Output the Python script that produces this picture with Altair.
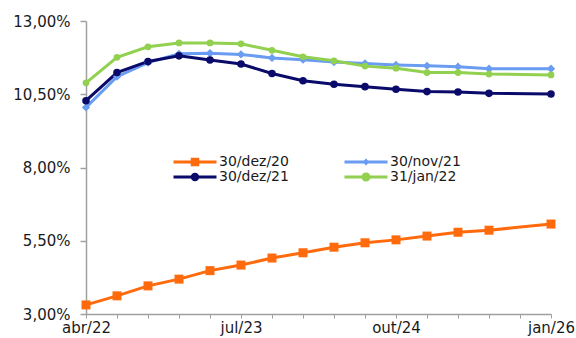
import json
import altair as alt
import pandas as pd

# quarterly axis (abr/22 .. jan/26)
quarters = ["abr/22", "jul/22", "out/22", "jan/23", "abr/23", "jul/23", "out/23", "jan/24",
            "abr/24", "jul/24", "out/24", "jan/25", "abr/25", "jul/25", "out/25", "jan/26"]
# quarters that carry observations (out/25 is absent)
point_quarters = ["abr/22", "jul/22", "out/22", "jan/23", "abr/23", "jul/23", "out/23", "jan/24",
                  "abr/24", "jul/24", "out/24", "jan/25", "abr/25", "jul/25", "jan/26"]
tick_labels = ["abr/22", "jul/23", "out/24", "jan/26"]

series_names = ["30/dez/20", "30/nov/21", "30/dez/21", "31/jan/22"]
colors = ["#FF6A0D", "#6A9CF2", "#0A0A6A", "#92D050"]

s_dez20 = [3.31, 3.62, 3.96, 4.19, 4.48, 4.67, 4.91, 5.09, 5.28, 5.43, 5.53, 5.66, 5.79, 5.86, 6.07]
s_nov21 = [10.05, 11.10, 11.58, 11.88, 11.90, 11.86, 11.74, 11.68, 11.60, 11.55, 11.50, 11.47, 11.44, 11.37, 11.37]
s_dez21 = [10.28, 11.24, 11.62, 11.81, 11.67, 11.53, 11.21, 10.96, 10.84, 10.76, 10.67, 10.59, 10.58, 10.53, 10.51]
s_jan22 = [10.89, 11.76, 12.12, 12.25, 12.25, 12.22, 12.00, 11.78, 11.64, 11.46, 11.39, 11.24, 11.24, 11.19, 11.16]

y_ticks = [3.0, 5.5, 8.0, 10.5, 13.0]

rows = []
for k, (name, vals) in enumerate(zip(series_names, [s_dez20, s_nov21, s_dez21, s_jan22])):
    for q, v in zip(point_quarters, vals):
        rows.append({"series": name, "ord": k, "q": quarters.index(q), "value": v})
df = pd.DataFrame(rows)

FONT = "DejaVu Sans"
FS = 15

x_label_expr = "indexof(%s, %s[datum.value]) >= 0 ? %s[datum.value] : ''" % (
    json.dumps(tick_labels), json.dumps(quarters), json.dumps(quarters))

x_enc = alt.X(
    "q:Q",
    scale=alt.Scale(domain=[0, len(quarters) - 1], nice=False, zero=False),
    axis=alt.Axis(values=list(range(len(quarters))), labelExpr=x_label_expr, title=None,
                  grid=False, labelFlush=False, labelOverlap=False, labelFont=FONT,
                  labelFontSize=FS, labelColor="#1a1a1a", labelPadding=2,
                  domainColor="#A0A0A0", domainWidth=1.5, tickColor="#A0A0A0",
                  tickSize=4, tickWidth=1),
)
y_enc = alt.Y(
    "value:Q",
    scale=alt.Scale(domain=[3, 13], nice=False, zero=False),
    axis=alt.Axis(values=y_ticks, labelExpr="replace(format(datum.value, '.2f'), '.', ',') + '%'",
                  title=None, grid=False, labelFont=FONT, labelFontSize=FS,
                  labelColor="#1a1a1a", labelPadding=10, domainColor="#A0A0A0",
                  domainWidth=1.5, tickColor="#A0A0A0", tickSize=6, tickWidth=1.5),
)

def cscale():
    return alt.Scale(domain=series_names, range=colors)

lines = alt.Chart(df).mark_line(strokeWidth=3).encode(
    x=x_enc, y=y_enc,
    color=alt.Color("series:N", scale=cscale(), legend=None),
    order=alt.Order("q:Q"),
)

points = alt.Chart(df).mark_point(filled=True, opacity=1, strokeWidth=0).encode(
    x=x_enc, y=y_enc,
    color=alt.Color("series:N", scale=cscale(), legend=None),
    shape=alt.Shape("series:N", scale=alt.Scale(domain=series_names,
                    range=["square", "diamond", "circle", "circle"]), legend=None),
    size=alt.Size("series:N", scale=alt.Scale(domain=series_names, range=[81, 45, 64, 135]),
                  legend=None),
)

# legend glyphs: a line segment with the series marker in the middle
seg = "M-4.3,-0.3H-0.3V0.3H-4.3Z M0.3,-0.3H4.3V0.3H0.3Z "
legend_paths = [
    seg + "M-0.85,-0.85H0.85V0.85H-0.85Z",
    seg + "M0,-0.7L0.7,0L0,0.7L-0.7,0Z",
    seg + "M-0.85,0A0.85,0.85 0 1,1 0.85,0A0.85,0.85 0 1,1 -0.85,0Z",
    seg + "M-0.9,0A0.9,0.9 0 1,1 0.9,0A0.9,0.9 0 1,1 -0.9,0Z",
]

legend_def = alt.Legend(orient="none", legendX=86, legendY=134, columns=2, direction="horizontal",
                        title=None, labelFont=FONT, labelFontSize=14, labelColor="#1a1a1a",
                        symbolStrokeWidth=0, symbolOffset=16, labelOffset=17,
                        columnPadding=54, rowPadding=1, padding=0, symbolOpacity=1)

legend_layer = alt.Chart(df).transform_filter("false").mark_point(
    filled=True, opacity=1, strokeWidth=0, size=100).encode(
    x=x_enc, y=y_enc,
    color=alt.Color("series:N", scale=cscale(), legend=legend_def),
    shape=alt.Shape("series:N", scale=alt.Scale(domain=series_names, range=legend_paths),
                    legend=legend_def),
)

chart = alt.layer(lines, points, legend_layer).resolve_scale(
    color="independent", shape="independent", size="independent"
).properties(
    width=465, height=293,
    autosize=alt.AutoSizeParams(type="none"),
    padding={"left": 86, "top": 21, "right": 25, "bottom": 24},
    background="white",
).configure_view(stroke=None)

chart.save("out.html", embed_options={"renderer": "svg", "actions": False})
